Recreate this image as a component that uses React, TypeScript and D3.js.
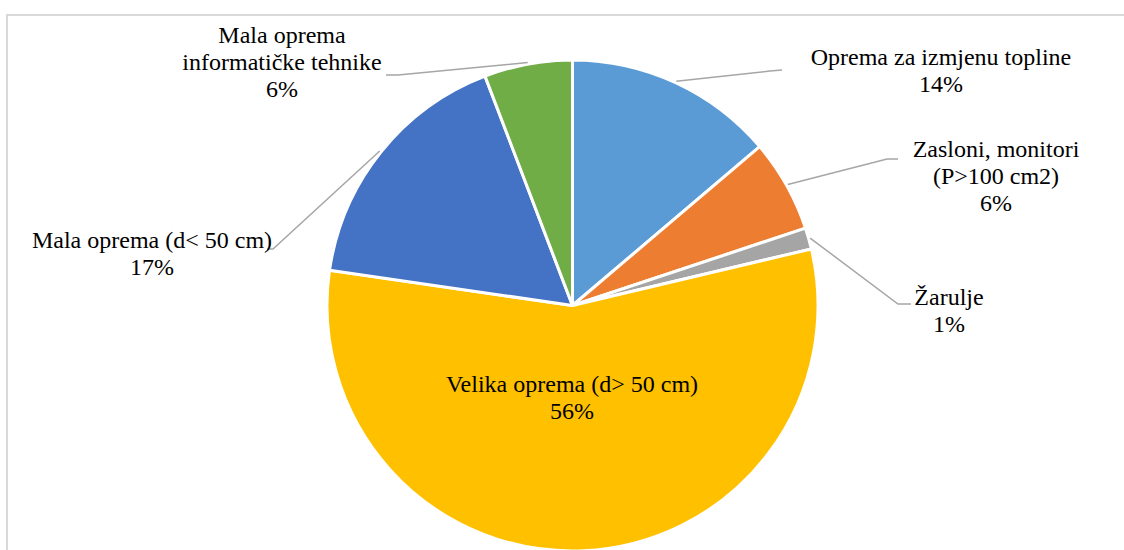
import React from "react";
import * as d3 from "d3";

const categories = [
  "Oprema za izmjenu topline",
  "Zasloni, monitori (P>100 cm2)",
  "Žarulje",
  "Velika oprema (d> 50 cm)",
  "Mala oprema (d< 50 cm)",
  "Mala oprema informatičke tehnike",
];
const values = [13.8, 6.1, 1.4, 56.0, 16.9, 5.8];
const colors = ["#5B9BD5", "#ED7D31", "#A5A5A5", "#FFC000", "#4472C4", "#70AD47"];

// label text lines (category split as in the reference)
const labelLines = [
  ["Oprema za izmjenu topline"],
  ["Zasloni, monitori", "(P>100 cm2)"],
  ["Žarulje"],
  ["Velika oprema (d> 50 cm)"],
  ["Mala oprema (d< 50 cm)"],
  ["Mala oprema", "informatičke tehnike"],
];

// layout: label centre x, first baseline y, leader elbow and end (null = inside label)
const labelLayout = [
  { x: 941, y: 65, elbow: [770, 71], end: [782, 70] },
  { x: 996, y: 157, elbow: [887, 159], end: [898, 159] },
  { x: 949, y: 305, elbow: [898, 304], end: [911, 304] },
  { x: 572, y: 392, elbow: null, end: null },
  { x: 152, y: 248, elbow: [273, 249], end: [267, 249] },
  { x: 282, y: 43, elbow: [398, 75], end: [386, 75] },
];

const W = 1124;
const H = 550;
const CX = 572.5;
const CY = 305.5;
const R = 245.5;
const LINE_H = 27;
const FONT = "Liberation Serif";

export default function App() {
  const total = d3.sum(values);
  const arcs = d3.pie<number>().sort(null).value((d) => d)(values);
  const arc = d3.arc<d3.PieArcDatum<number>>().innerRadius(0).outerRadius(R);
  const pct = d3.format(".0%");

  const textItems: { key: string; cx: number; y: number; s: string }[] = [];
  arcs.forEach((a, i) => {
    const L = labelLayout[i];
    const lines = [...labelLines[i], pct(values[i] / total)];
    lines.forEach((ln, j) => {
      textItems.push({ key: `t${i}-${j}`, cx: L.x, y: L.y + j * LINE_H, s: ln });
    });
  });

  return (
    <div>
      <svg width={W} height={H} style={{ position: "absolute", left: 0, top: 0 }}>
        <rect x={7} y={15} width={W + 20} height={H + 20} fill="#fff" stroke="#D9D9D9" strokeWidth={2} />
        <g transform={`translate(${CX},${CY})`}>
          {arcs.map((a, i) => (
            <path key={i} d={arc(a) || ""} fill={colors[i]} stroke="#fff" strokeWidth={3} strokeLinejoin="round" />
          ))}
        </g>
        {arcs.map((a, i) => {
          const L = labelLayout[i];
          if (!L.elbow || !L.end) return null;
          const mid = (a.startAngle + a.endAngle) / 2;
          const pts = [
            [CX + Math.sin(mid) * (R + 1.5), CY - Math.cos(mid) * (R + 1.5)],
            L.elbow,
            L.end,
          ] as [number, number][];
          return <path key={"l" + i} d={d3.line()(pts) || ""} fill="none" stroke="#A6A6A6" strokeWidth={1.5} />;
        })}
        {textItems.map((t) => (
          <text key={t.key} x={t.cx} y={t.y} textAnchor="middle" fontFamily={FONT} fontSize={24} fill="#000">
            {t.s}
          </text>
        ))}
      </svg>
    </div>
  );
}
